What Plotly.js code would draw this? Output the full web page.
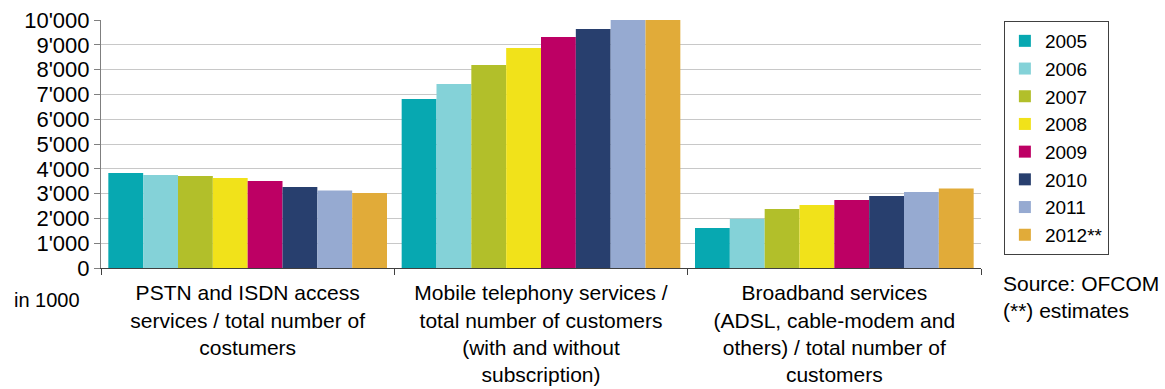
<!DOCTYPE html>
<html>
<head>
<meta charset="utf-8">
<script src="https://cdn.plot.ly/plotly-3.0.1.min.js"></script>
<style>html,body{margin:0;padding:0;background:#fff;}#chart{width:1165px;height:389px;}</style>
</head>
<body>
<div id="chart"></div>
<script>
const categories = [
  "PSTN and ISDN access<br>services / total number of<br>costumers",
  "Mobile telephony services /<br>total number of customers<br>(with and without<br>subscription)",
  "Broadband services<br>(ADSL, cable-modem and<br>others) / total number of<br>customers"
];
const years = ["2005", "2006", "2007", "2008", "2009", "2010", "2011", "2012**"];
const v2005 = [3830, 6810, 1610];
const v2006 = [3750, 7420, 1990];
const v2007 = [3710, 8190, 2380];
const v2008 = [3630, 8870, 2540];
const v2009 = [3510, 9310, 2740];
const v2010 = [3270, 9640, 2900];
const v2011 = [3130, 10100, 3060];
const v2012 = [3020, 10300, 3210];
const colors = ["#07A8B1", "#84D2D8", "#B2BF2A", "#F1E21A", "#BD0064", "#283F6E", "#96AAD1", "#E1AB39"];

const series = [v2005, v2006, v2007, v2008, v2009, v2010, v2011, v2012];
const fam = "Liberation Sans, Arial, sans-serif";
const font = {family: fam, size: 22, color: "#000"};

const data = series.map((vals, i) => ({
  type: "bar",
  name: years[i],
  x: categories,
  y: vals,
  marker: {color: colors[i], line: {width: 0}},
  hoverinfo: "y+name"
}));

const layout = {
  width: 1165,
  height: 389,
  margin: {l: 101, r: 184, t: 20, b: 121},
  paper_bgcolor: "#fff",
  plot_bgcolor: "#fff",
  font: font,
  separators: ".'",
  barmode: "group",
  bargap: 0.05,
  bargroupgap: 0,
  showlegend: true,
  legend: {
    x: 1.026, xanchor: "left",
    y: 0.996, yanchor: "top",
    bordercolor: "#404040", borderwidth: 1,
    font: {family: fam, size: 19, color: "#000"},
    itemwidth: 30,
    tracegroupgap: 0
  },
  xaxis: {
    type: "category",
    showline: true, linecolor: "#404040", linewidth: 1,
    ticks: "outside", tickson: "boundaries", ticklen: 6, tickcolor: "#404040",
    ticklabelstandoff: 6,
    tickfont: {family: fam, size: 21, color: "#000"},
    showgrid: false, zeroline: false
  },
  yaxis: {
    range: [0, 10000],
    dtick: 1000,
    tickformat: ",d",
    showline: true, linecolor: "#7f7f7f", linewidth: 1,
    ticks: "outside", ticklen: 6, tickcolor: "#7f7f7f",
    showgrid: true, gridcolor: "#c8c8c8", gridwidth: 1,
    zeroline: false,
    tickfont: font
  },
  annotations: [
    {text: "in 1000", xref: "paper", yref: "paper", x: -0.1015, y: -0.075, xanchor: "left", yanchor: "top", showarrow: false, font: {family: fam, size: 20, color: "#000"}},
    {text: "Source: OFCOM<br>(**) estimates", xref: "paper", yref: "paper", x: 1.0225, y: -0.01, xanchor: "left", yanchor: "top", align: "left", showarrow: false, font: {family: fam, size: 21, color: "#000"}}
  ]
};

Plotly.newPlot("chart", data, layout, {displayModeBar: false, staticPlot: true});
</script>
</body>
</html>
